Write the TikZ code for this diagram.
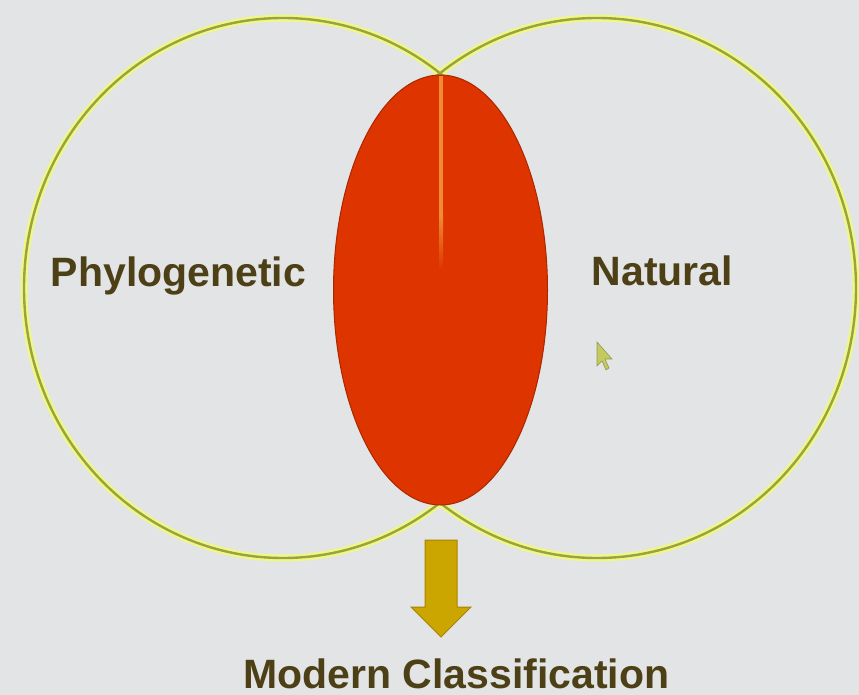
\documentclass[tikz,border=0pt]{standalone}
\usepackage{fontspec}
\setmainfont{Liberation Sans}
\usetikzlibrary{shapes.geometric}
\definecolor{bg}{RGB}{227,228,230}
\definecolor{ring}{RGB}{155,162,62}
\definecolor{ringglow}{RGB}{238,248,135}
\definecolor{redfill}{RGB}{221,52,0}
\definecolor{rededge}{RGB}{170,40,0}
\definecolor{stripe}{RGB}{242,140,50}
\definecolor{arrowfill}{RGB}{204,166,0}
\definecolor{arrowedge}{RGB}{170,130,0}
\definecolor{txt}{RGB}{78,64,22}
\tikzset{
  setcircle/.style={ellipse, inner sep=0pt, minimum width=518pt, minimum height=540pt,
    draw=ring, line width=2.4pt},
  glowcircle/.style={ellipse, inner sep=0pt, minimum width=518pt, minimum height=540pt,
    draw=ringglow, line width=7pt},
  lbl/.style={font=\fontsize{41}{41}\selectfont\bfseries, text=txt, inner sep=0pt, anchor=base},
}
\begin{document}
\begin{tikzpicture}[x=1pt,y=-1pt]
\fill[bg] (0,0) rectangle (859,695);
\useasboundingbox (0,0) rectangle (859,695);
% glow under the rings
\node[glowcircle] at (283,288) {};
\node[glowcircle] at (597,288) {};
% rings
\node[setcircle] (left) at (283,288) {};
\node[setcircle] (right) at (597,288) {};
% red intersection ellipse
\node[ellipse, inner sep=0pt, minimum width=214pt, minimum height=430pt,
      fill=redfill, draw=rededge, line width=1pt] (mid) at (440.5,290) {};
% light stripe
\fill[stripe] (439,76) rectangle (443,215);
\shade[top color=stripe, bottom color=redfill] (439,215) rectangle (443,270);
% block arrow
\coordinate (arrowtip) at (441,637);
\filldraw[fill=arrowfill, draw=arrowedge, line width=1pt, line join=miter]
  (425,540) -- (457,540) -- (457,607) -- (471,607) -- (arrowtip) -- (411,607) -- (425,607) -- cycle;
% cursor
\filldraw[fill=ring!70!yellow, draw=ring!80!black, line width=0.6pt, opacity=0.7]
  (597,342) -- (597,366) -- (602,361) -- (606,370) -- (609,368) -- (605,359) -- (612,359) -- cycle;
% labels
\node[lbl] (phylo) at (178.5,286) {Phylogenetic};
\node[lbl] (nat) at (662.5,285) {Natural};
\node[lbl] (modern) at (456.5,688) {Modern Classification};
\end{tikzpicture}
\end{document}
